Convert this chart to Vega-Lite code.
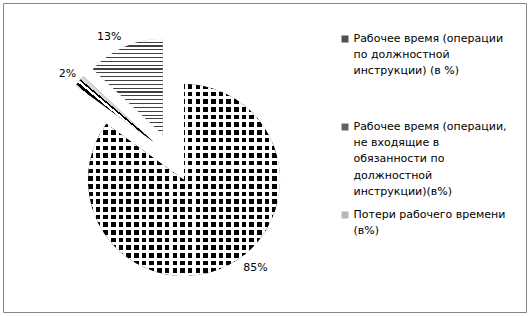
{
  "$schema": "https://vega.github.io/schema/vega-lite/v6.json",
  "width": 523,
  "height": 309,
  "autosize": "none",
  "padding": {"left": 3.5, "top": 3.5, "right": 2.5, "bottom": 3.5},
  "background": "white",
  "config": {
    "view": {"stroke": null},
    "style": {"guide-label": {"lineHeight": 16.2}}
  },
  "data": {
    "values": [
      {"name": "Рабочее время (операции по должностной инструкции) (в %)", "value": 85},
      {"name": "Рабочее время (операции, не входящие в обязанности по должностной инструкции)(в%)", "value": 2},
      {"name": "Потери рабочего времени (в%)", "value": 13}
    ]
  },
  "transform": [
    {"window": [{"op": "sum", "field": "value", "as": "cum"}], "frame": [null, 0]},
    {"joinaggregate": [{"op": "sum", "field": "value", "as": "total"}]},
    {"calculate": "2*PI*(datum.cum-datum.value)/datum.total", "as": "a0"},
    {"calculate": "2*PI*datum.cum/datum.total", "as": "a1"},
    {"calculate": "(datum.a0+datum.a1)/2", "as": "mid"},
    {"calculate": "datum.value + '%'", "as": "label"}
  ],
  "layer": [
    {
      "data": {"values": [{"frame": 1}]},
      "mark": {"type": "rect", "fill": "transparent", "stroke": "#868686", "strokeWidth": 1},
      "encoding": {
        "x": {"value": 0}, "x2": {"value": "width"},
        "y": {"value": 0}, "y2": {"value": "height"}
      }
    },
    {
      "mark": {"type": "arc", "radius": 96, "x": {"expr": "169.2 + 25*sin(datum.mid)"}, "y": {"expr": "154.3 - 25*cos(datum.mid)"}},
      "encoding": {
        "theta": {"field": "a0", "type": "quantitative", "scale": null},
        "theta2": {"field": "a1"},
        "color": {
          "field": "name",
          "type": "nominal",
          "scale": {
            "domain": [
              "Рабочее время (операции по должностной инструкции) (в %)",
              "Рабочее время (операции, не входящие в обязанности по должностной инструкции)(в%)",
              "Потери рабочего времени (в%)"
            ],
            "range": ["#505050", "#606060", "#b8b8b8"]
          },
          "legend": {
            "orient": "none",
            "legendX": 336,
            "legendY": 30,
            "title": null,
            "symbolType": "square",
            "symbolSize": 49,
            "symbolStrokeWidth": 0,
            "labelFont": "DejaVu Sans",
            "labelFontSize": 11,
            "labelColor": "#000",
            "labelLimit": 300,
            "labelOffset": 3,
            "gridAlign": "all",
            "rowPadding": 11,
            "labelExpr": "indexof(datum.label, 'Потери') == 0 ? ['Потери рабочего времени', '(в%)'] : indexof(datum.label, 'не входящие') > 0 ? ['Рабочее время (операции,', 'не входящие в', 'обязанности по', 'должностной', 'инструкции)(в%)'] : ['Рабочее время (операции', 'по должностной', 'инструкции) (в %)']"
          }
        }
      }
    },
    {
      "transform": [{"filter": "datum.value == 85"}],
      "mark": {
        "type": "arc", "radius": 96,
        "x": {"expr": "169.2 + 25*sin(datum.mid)"}, "y": {"expr": "154.3 - 25*cos(datum.mid)"},
        "fill": {
          "gradient": "linear", "x1": 0, "y1": 0, "x2": 1, "y2": 0,
          "stops": [
            {"offset":0,"color":"#000"},{"offset":0.024,"color":"#000"},{"offset":0.024,"color":"#fff"},{"offset":0.04,"color":"#fff"},
            {"offset":0.04,"color":"#000"},{"offset":0.064,"color":"#000"},{"offset":0.064,"color":"#fff"},{"offset":0.08,"color":"#fff"},
            {"offset":0.08,"color":"#000"},{"offset":0.104,"color":"#000"},{"offset":0.104,"color":"#fff"},{"offset":0.12,"color":"#fff"},
            {"offset":0.12,"color":"#000"},{"offset":0.144,"color":"#000"},{"offset":0.144,"color":"#fff"},{"offset":0.16,"color":"#fff"},
            {"offset":0.16,"color":"#000"},{"offset":0.184,"color":"#000"},{"offset":0.184,"color":"#fff"},{"offset":0.2,"color":"#fff"},
            {"offset":0.2,"color":"#000"},{"offset":0.224,"color":"#000"},{"offset":0.224,"color":"#fff"},{"offset":0.24,"color":"#fff"},
            {"offset":0.24,"color":"#000"},{"offset":0.264,"color":"#000"},{"offset":0.264,"color":"#fff"},{"offset":0.28,"color":"#fff"},
            {"offset":0.28,"color":"#000"},{"offset":0.304,"color":"#000"},{"offset":0.304,"color":"#fff"},{"offset":0.32,"color":"#fff"},
            {"offset":0.32,"color":"#000"},{"offset":0.344,"color":"#000"},{"offset":0.344,"color":"#fff"},{"offset":0.36,"color":"#fff"},
            {"offset":0.36,"color":"#000"},{"offset":0.384,"color":"#000"},{"offset":0.384,"color":"#fff"},{"offset":0.4,"color":"#fff"},
            {"offset":0.4,"color":"#000"},{"offset":0.424,"color":"#000"},{"offset":0.424,"color":"#fff"},{"offset":0.44,"color":"#fff"},
            {"offset":0.44,"color":"#000"},{"offset":0.464,"color":"#000"},{"offset":0.464,"color":"#fff"},{"offset":0.48,"color":"#fff"},
            {"offset":0.48,"color":"#000"},{"offset":0.504,"color":"#000"},{"offset":0.504,"color":"#fff"},{"offset":0.52,"color":"#fff"},
            {"offset":0.52,"color":"#000"},{"offset":0.544,"color":"#000"},{"offset":0.544,"color":"#fff"},{"offset":0.56,"color":"#fff"},
            {"offset":0.56,"color":"#000"},{"offset":0.584,"color":"#000"},{"offset":0.584,"color":"#fff"},{"offset":0.6,"color":"#fff"},
            {"offset":0.6,"color":"#000"},{"offset":0.624,"color":"#000"},{"offset":0.624,"color":"#fff"},{"offset":0.64,"color":"#fff"},
            {"offset":0.64,"color":"#000"},{"offset":0.664,"color":"#000"},{"offset":0.664,"color":"#fff"},{"offset":0.68,"color":"#fff"},
            {"offset":0.68,"color":"#000"},{"offset":0.704,"color":"#000"},{"offset":0.704,"color":"#fff"},{"offset":0.72,"color":"#fff"},
            {"offset":0.72,"color":"#000"},{"offset":0.744,"color":"#000"},{"offset":0.744,"color":"#fff"},{"offset":0.76,"color":"#fff"},
            {"offset":0.76,"color":"#000"},{"offset":0.784,"color":"#000"},{"offset":0.784,"color":"#fff"},{"offset":0.8,"color":"#fff"},
            {"offset":0.8,"color":"#000"},{"offset":0.824,"color":"#000"},{"offset":0.824,"color":"#fff"},{"offset":0.84,"color":"#fff"},
            {"offset":0.84,"color":"#000"},{"offset":0.864,"color":"#000"},{"offset":0.864,"color":"#fff"},{"offset":0.88,"color":"#fff"},
            {"offset":0.88,"color":"#000"},{"offset":0.904,"color":"#000"},{"offset":0.904,"color":"#fff"},{"offset":0.92,"color":"#fff"},
            {"offset":0.92,"color":"#000"},{"offset":0.944,"color":"#000"},{"offset":0.944,"color":"#fff"},{"offset":0.96,"color":"#fff"},
            {"offset":0.96,"color":"#000"},{"offset":0.984,"color":"#000"},{"offset":0.984,"color":"#fff"},{"offset":1,"color":"#fff"}
          ]
        }
      },
      "encoding": {
        "theta": {"field": "a0", "type": "quantitative", "scale": null},
        "theta2": {"field": "a1"}
      }
    },
    {
      "transform": [{"filter": "datum.value == 85"}],
      "mark": {
        "type": "arc", "radius": 96,
        "x": {"expr": "169.2 + 25*sin(datum.mid)"}, "y": {"expr": "154.3 - 25*cos(datum.mid)"},
        "fill": {
          "gradient": "linear", "x1": 0, "y1": 0, "x2": 0, "y2": 1,
          "stops": [
            {"offset":0,"color":"rgba(255,255,255,0)"},{"offset":0.024,"color":"rgba(255,255,255,0)"},{"offset":0.024,"color":"#fff"},{"offset":0.04,"color":"#fff"},
            {"offset":0.04,"color":"rgba(255,255,255,0)"},{"offset":0.064,"color":"rgba(255,255,255,0)"},{"offset":0.064,"color":"#fff"},{"offset":0.08,"color":"#fff"},
            {"offset":0.08,"color":"rgba(255,255,255,0)"},{"offset":0.104,"color":"rgba(255,255,255,0)"},{"offset":0.104,"color":"#fff"},{"offset":0.12,"color":"#fff"},
            {"offset":0.12,"color":"rgba(255,255,255,0)"},{"offset":0.144,"color":"rgba(255,255,255,0)"},{"offset":0.144,"color":"#fff"},{"offset":0.16,"color":"#fff"},
            {"offset":0.16,"color":"rgba(255,255,255,0)"},{"offset":0.184,"color":"rgba(255,255,255,0)"},{"offset":0.184,"color":"#fff"},{"offset":0.2,"color":"#fff"},
            {"offset":0.2,"color":"rgba(255,255,255,0)"},{"offset":0.224,"color":"rgba(255,255,255,0)"},{"offset":0.224,"color":"#fff"},{"offset":0.24,"color":"#fff"},
            {"offset":0.24,"color":"rgba(255,255,255,0)"},{"offset":0.264,"color":"rgba(255,255,255,0)"},{"offset":0.264,"color":"#fff"},{"offset":0.28,"color":"#fff"},
            {"offset":0.28,"color":"rgba(255,255,255,0)"},{"offset":0.304,"color":"rgba(255,255,255,0)"},{"offset":0.304,"color":"#fff"},{"offset":0.32,"color":"#fff"},
            {"offset":0.32,"color":"rgba(255,255,255,0)"},{"offset":0.344,"color":"rgba(255,255,255,0)"},{"offset":0.344,"color":"#fff"},{"offset":0.36,"color":"#fff"},
            {"offset":0.36,"color":"rgba(255,255,255,0)"},{"offset":0.384,"color":"rgba(255,255,255,0)"},{"offset":0.384,"color":"#fff"},{"offset":0.4,"color":"#fff"},
            {"offset":0.4,"color":"rgba(255,255,255,0)"},{"offset":0.424,"color":"rgba(255,255,255,0)"},{"offset":0.424,"color":"#fff"},{"offset":0.44,"color":"#fff"},
            {"offset":0.44,"color":"rgba(255,255,255,0)"},{"offset":0.464,"color":"rgba(255,255,255,0)"},{"offset":0.464,"color":"#fff"},{"offset":0.48,"color":"#fff"},
            {"offset":0.48,"color":"rgba(255,255,255,0)"},{"offset":0.504,"color":"rgba(255,255,255,0)"},{"offset":0.504,"color":"#fff"},{"offset":0.52,"color":"#fff"},
            {"offset":0.52,"color":"rgba(255,255,255,0)"},{"offset":0.544,"color":"rgba(255,255,255,0)"},{"offset":0.544,"color":"#fff"},{"offset":0.56,"color":"#fff"},
            {"offset":0.56,"color":"rgba(255,255,255,0)"},{"offset":0.584,"color":"rgba(255,255,255,0)"},{"offset":0.584,"color":"#fff"},{"offset":0.6,"color":"#fff"},
            {"offset":0.6,"color":"rgba(255,255,255,0)"},{"offset":0.624,"color":"rgba(255,255,255,0)"},{"offset":0.624,"color":"#fff"},{"offset":0.64,"color":"#fff"},
            {"offset":0.64,"color":"rgba(255,255,255,0)"},{"offset":0.664,"color":"rgba(255,255,255,0)"},{"offset":0.664,"color":"#fff"},{"offset":0.68,"color":"#fff"},
            {"offset":0.68,"color":"rgba(255,255,255,0)"},{"offset":0.704,"color":"rgba(255,255,255,0)"},{"offset":0.704,"color":"#fff"},{"offset":0.72,"color":"#fff"},
            {"offset":0.72,"color":"rgba(255,255,255,0)"},{"offset":0.744,"color":"rgba(255,255,255,0)"},{"offset":0.744,"color":"#fff"},{"offset":0.76,"color":"#fff"},
            {"offset":0.76,"color":"rgba(255,255,255,0)"},{"offset":0.784,"color":"rgba(255,255,255,0)"},{"offset":0.784,"color":"#fff"},{"offset":0.8,"color":"#fff"},
            {"offset":0.8,"color":"rgba(255,255,255,0)"},{"offset":0.824,"color":"rgba(255,255,255,0)"},{"offset":0.824,"color":"#fff"},{"offset":0.84,"color":"#fff"},
            {"offset":0.84,"color":"rgba(255,255,255,0)"},{"offset":0.864,"color":"rgba(255,255,255,0)"},{"offset":0.864,"color":"#fff"},{"offset":0.88,"color":"#fff"},
            {"offset":0.88,"color":"rgba(255,255,255,0)"},{"offset":0.904,"color":"rgba(255,255,255,0)"},{"offset":0.904,"color":"#fff"},{"offset":0.92,"color":"#fff"},
            {"offset":0.92,"color":"rgba(255,255,255,0)"},{"offset":0.944,"color":"rgba(255,255,255,0)"},{"offset":0.944,"color":"#fff"},{"offset":0.96,"color":"#fff"},
            {"offset":0.96,"color":"rgba(255,255,255,0)"},{"offset":0.984,"color":"rgba(255,255,255,0)"},{"offset":0.984,"color":"#fff"},{"offset":1,"color":"#fff"}
          ]
        }
      },
      "encoding": {
        "theta": {"field": "a0", "type": "quantitative", "scale": null},
        "theta2": {"field": "a1"}
      }
    },
    {
      "transform": [{"filter": "datum.value == 13"}],
      "mark": {
        "type": "arc", "radius": 96,
        "x": {"expr": "169.2 + 25*sin(datum.mid)"}, "y": {"expr": "154.3 - 25*cos(datum.mid)"},
        "fill": {
          "gradient": "linear", "x1": 0, "y1": 0, "x2": 0, "y2": 1,
          "stops": [
            {"offset":0,"color":"#fff"},{"offset":0.028,"color":"#fff"},{"offset":0.028,"color":"#404040"},{"offset":0.04,"color":"#404040"},
            {"offset":0.04,"color":"#fff"},{"offset":0.068,"color":"#fff"},{"offset":0.068,"color":"#404040"},{"offset":0.08,"color":"#404040"},
            {"offset":0.08,"color":"#fff"},{"offset":0.108,"color":"#fff"},{"offset":0.108,"color":"#404040"},{"offset":0.12,"color":"#404040"},
            {"offset":0.12,"color":"#fff"},{"offset":0.148,"color":"#fff"},{"offset":0.148,"color":"#404040"},{"offset":0.16,"color":"#404040"},
            {"offset":0.16,"color":"#fff"},{"offset":0.188,"color":"#fff"},{"offset":0.188,"color":"#404040"},{"offset":0.2,"color":"#404040"},
            {"offset":0.2,"color":"#fff"},{"offset":0.228,"color":"#fff"},{"offset":0.228,"color":"#404040"},{"offset":0.24,"color":"#404040"},
            {"offset":0.24,"color":"#fff"},{"offset":0.268,"color":"#fff"},{"offset":0.268,"color":"#404040"},{"offset":0.28,"color":"#404040"},
            {"offset":0.28,"color":"#fff"},{"offset":0.308,"color":"#fff"},{"offset":0.308,"color":"#404040"},{"offset":0.32,"color":"#404040"},
            {"offset":0.32,"color":"#fff"},{"offset":0.348,"color":"#fff"},{"offset":0.348,"color":"#404040"},{"offset":0.36,"color":"#404040"},
            {"offset":0.36,"color":"#fff"},{"offset":0.388,"color":"#fff"},{"offset":0.388,"color":"#404040"},{"offset":0.4,"color":"#404040"},
            {"offset":0.4,"color":"#fff"},{"offset":0.428,"color":"#fff"},{"offset":0.428,"color":"#404040"},{"offset":0.44,"color":"#404040"},
            {"offset":0.44,"color":"#fff"},{"offset":0.468,"color":"#fff"},{"offset":0.468,"color":"#404040"},{"offset":0.48,"color":"#404040"},
            {"offset":0.48,"color":"#fff"},{"offset":0.508,"color":"#fff"},{"offset":0.508,"color":"#404040"},{"offset":0.52,"color":"#404040"},
            {"offset":0.52,"color":"#fff"},{"offset":0.548,"color":"#fff"},{"offset":0.548,"color":"#404040"},{"offset":0.56,"color":"#404040"},
            {"offset":0.56,"color":"#fff"},{"offset":0.588,"color":"#fff"},{"offset":0.588,"color":"#404040"},{"offset":0.6,"color":"#404040"},
            {"offset":0.6,"color":"#fff"},{"offset":0.628,"color":"#fff"},{"offset":0.628,"color":"#404040"},{"offset":0.64,"color":"#404040"},
            {"offset":0.64,"color":"#fff"},{"offset":0.668,"color":"#fff"},{"offset":0.668,"color":"#404040"},{"offset":0.68,"color":"#404040"},
            {"offset":0.68,"color":"#fff"},{"offset":0.708,"color":"#fff"},{"offset":0.708,"color":"#404040"},{"offset":0.72,"color":"#404040"},
            {"offset":0.72,"color":"#fff"},{"offset":0.748,"color":"#fff"},{"offset":0.748,"color":"#404040"},{"offset":0.76,"color":"#404040"},
            {"offset":0.76,"color":"#fff"},{"offset":0.788,"color":"#fff"},{"offset":0.788,"color":"#404040"},{"offset":0.8,"color":"#404040"},
            {"offset":0.8,"color":"#fff"},{"offset":0.828,"color":"#fff"},{"offset":0.828,"color":"#404040"},{"offset":0.84,"color":"#404040"},
            {"offset":0.84,"color":"#fff"},{"offset":0.868,"color":"#fff"},{"offset":0.868,"color":"#404040"},{"offset":0.88,"color":"#404040"},
            {"offset":0.88,"color":"#fff"},{"offset":0.908,"color":"#fff"},{"offset":0.908,"color":"#404040"},{"offset":0.92,"color":"#404040"},
            {"offset":0.92,"color":"#fff"},{"offset":0.948,"color":"#fff"},{"offset":0.948,"color":"#404040"},{"offset":0.96,"color":"#404040"},
            {"offset":0.96,"color":"#fff"},{"offset":0.988,"color":"#fff"},{"offset":0.988,"color":"#404040"},{"offset":1,"color":"#404040"}
          ]
        }
      },
      "encoding": {
        "theta": {"field": "a0", "type": "quantitative", "scale": null},
        "theta2": {"field": "a1"}
      }
    },
    {
      "transform": [{"filter": "datum.value == 2"}],
      "mark": {
        "type": "arc", "radius": 96,
        "x": {"expr": "169.2 + 25*sin(datum.mid)"}, "y": {"expr": "154.3 - 25*cos(datum.mid)"},
        "fill": {
          "gradient": "linear", "x1": 0, "y1": 1, "x2": 1, "y2": 0,
          "stops": [
            {"offset":0,"color":"#e0e0e0"},{"offset":0.44,"color":"#e0e0e0"},
            {"offset":0.44,"color":"#000"},{"offset":0.468,"color":"#000"},
            {"offset":0.468,"color":"#fff"},{"offset":0.49,"color":"#fff"},
            {"offset":0.49,"color":"#000"},{"offset":0.506,"color":"#000"},
            {"offset":0.506,"color":"#d8d8d8"},{"offset":1,"color":"#d8d8d8"}
          ]
        }
      },
      "encoding": {
        "theta": {"field": "a0", "type": "quantitative", "scale": null},
        "theta2": {"field": "a1"}
      }
    },
    {
      "transform": [{"filter": "datum.mid < PI"}],
      "mark": {
        "type": "rule", "color": "#000", "strokeWidth": 1,
        "x": {"expr": "169.2 + 129*sin(datum.mid) - 2"}, "y": {"expr": "154.3 - 129*cos(datum.mid) - 5"},
        "x2": {"expr": "169.2 + 129*sin(datum.mid) + 4"}, "y2": {"expr": "154.3 - 129*cos(datum.mid) + 1"}
      },
      "encoding": {}
    },
    {
      "transform": [{"filter": "datum.mid < PI"}],
      "mark": {
        "type": "rule", "color": "#000", "strokeWidth": 1,
        "x": {"expr": "169.2 + 129*sin(datum.mid) + 4"}, "y": {"expr": "154.3 - 129*cos(datum.mid) + 1"},
        "x2": {"expr": "169.2 + 129*sin(datum.mid) + 10"}, "y2": {"expr": "154.3 - 129*cos(datum.mid) + 1"}
      },
      "encoding": {}
    },
    {
      "mark": {
        "type": "text", "radius": 104, "font": "DejaVu Sans", "fontSize": 11, "color": "#000", "baseline": "middle",
        "x": {"expr": "169.2 + 25*sin(datum.mid)"}, "y": {"expr": "154.3 - 25*cos(datum.mid)"},
        "align": {"expr": "datum.mid > PI ? 'right' : 'left'"},
        "dx": {"expr": "datum.mid < PI ? 12 : (datum.value < 5 ? 3 : 0)"},
        "dy": {"expr": "datum.mid < PI ? -5 : -2"}
      },
      "encoding": {
        "theta": {"field": "mid", "type": "quantitative", "scale": null},
        "text": {"field": "label"}
      }
    }
  ]
}
